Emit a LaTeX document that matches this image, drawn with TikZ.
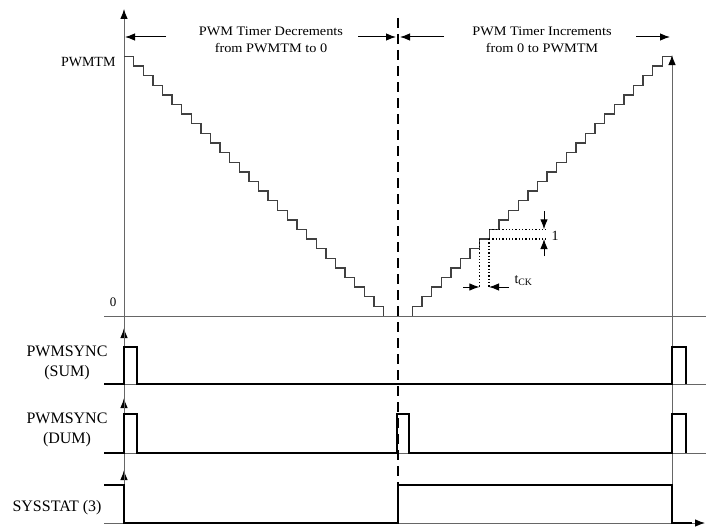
\documentclass[tikz,border=0pt]{standalone}
\usepackage{fontspec}
\setmainfont{Liberation Serif}
\newfontfamily\notefont[FakeStretch=1.1]{Liberation Serif}
\usetikzlibrary{arrows.meta}

\begin{document}
\begin{tikzpicture}[x=1pt,y=-1pt,>={Latex[length=10pt,width=7.5pt,color=black]},
  ax/.style={draw=black!60,line width=0.9pt},
  sig/.style={line width=2.4pt,line join=miter},
  stair/.style={draw=black!75,line width=1.4pt},
  dim/.style={->,line width=1pt},
  dots/.style={line width=1.3pt,dash pattern=on 1.3pt off 2pt},
  lbl/.style={font=\fontsize{16}{20}\selectfont,align=center},
  note/.style={font=\notefont\fontsize{13}{16.5}\selectfont,align=center}]
  \useasboundingbox (0,0) rectangle (706,527);
  % axes
  \draw[ax,->] (124,316)--(124,9);
  \draw[ax,->] (124,384)--(124,328);
  \draw[ax,->] (124,453)--(124,398);
  \draw[ax,->] (124,523)--(124,470);
  \draw[ax] (124,316)--(124,384) (124,328)--(124,453) (124,398)--(124,523);
  \draw[ax,->] (672,523)--(672,55);
  \foreach \y in {316,384,453} \draw[ax] (104,\y)--(706,\y);
  \draw[ax,->] (104,523)--(705,523);
  % counter
  \draw[stair] (124,56.5) \foreach \k in {1,...,27}{ -- ++(9.611,0) -- ++(0,9.611) };
  \draw[stair] (412.5,316) \foreach \k in {1,...,27}{ -- ++(0,-9.611) -- ++(9.611,0) };
  \draw[line width=2pt,dash pattern=on 10pt off 6pt] (398,18)--(398,485);
  \node[note] (dec) at (271,40) {PWM Timer Decrements\\from PWMTM to 0};
  \node[note] (inc) at (542,40) {PWM Timer Increments\\from 0 to PWMTM};
  \coordinate (a1) at (166,37); \coordinate (b1) at (125,37);
  \coordinate (a2) at (358,37); \coordinate (b2) at (396,37);
  \coordinate (a3) at (444,37); \coordinate (b3) at (400,37);
  \coordinate (a4) at (636,37); \coordinate (b4) at (670,37);
  \foreach \i in {1,...,4} \draw[dim] (a\i)--(b\i);
  \node[font=\fontsize{14}{16}\selectfont,anchor=east] (pwmtm) at (119,62) {PWMTM};
  \node[font=\fontsize{13}{15}\selectfont] (zero) at (113,302) {0};
  % step size marks
  \draw[dots] (489,229.3)--(548,229.3) (489,239)--(548,239);
  \draw[dots] (479.4,239)--(479.4,287) (489,239)--(489,287);
  \coordinate (c1) at (463,287); \coordinate (d1) at (479.4,287);
  \coordinate (c2) at (509,287); \coordinate (d2) at (489,287);
  \coordinate (c3) at (544,211); \coordinate (d3) at (544,229.3);
  \coordinate (c4) at (544,256); \coordinate (d4) at (544,239);
  \foreach \i in {1,...,4} \draw[dim] (c\i)--(d\i);
  \node[font=\fontsize{14}{16}\selectfont,anchor=west] (tck) at (511,281) {t\textsubscript{CK}};
  \node[font=\fontsize{14}{16}\selectfont] (one) at (555,236) {1};
  % signals
  \draw[sig] (104,384)--(124,384)--(124,347)--(137,347)--(137,384)--(672,384)--(672,347)--(686,347)--(686,384);
  \draw[sig] (104,453)--(124,453)--(124,414)--(137,414)--(137,453)--(397,453)--(397,414)--(409,414)--(409,453)--(672,453)--(672,414)--(686,414)--(686,453);
  \draw[sig] (104,485)--(124,485)--(124,523)--(398,523)--(398,485)--(672,485)--(672,523)--(692,523);
  \node[lbl] (sum) at (67,362.5) {PWMSYNC\\(SUM)};
  \node[lbl] (dum) at (67,429.5) {PWMSYNC\\(DUM)};
  \node[lbl] (sys) at (57,508) {SYSSTAT (3)};
\end{tikzpicture}
\end{document}
